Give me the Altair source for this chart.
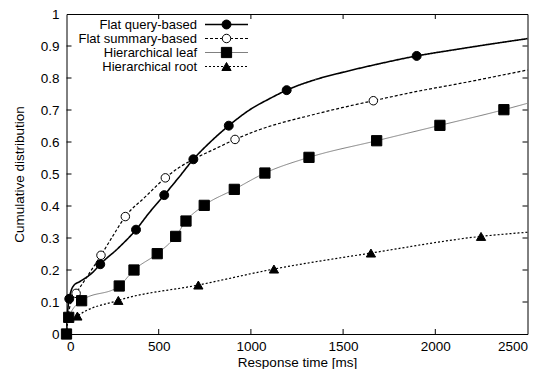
import altair as alt
import pandas as pd

# ---------------- data ----------------
X_TICKS = [0, 500, 1000, 1500, 2000, 2500]
Y_TICKS = [0, 0.1, 0.2, 0.3, 0.4, 0.5, 0.6, 0.7, 0.8, 0.9, 1]

SERIES = ["Flat query-based", "Flat summary-based", "Hierarchical leaf", "Hierarchical root"]

# curves
query_x = [0, 4, 15, 25, 40, 73, 145, 183, 280, 377, 450, 530, 610, 688, 780, 880, 1000, 1100, 1194, 1350, 1500, 1700, 1899, 2100, 2300, 2500]
query_y = [0, 0.05, 0.11, 0.135, 0.152, 0.164, 0.194, 0.218, 0.268, 0.326, 0.38, 0.434, 0.49, 0.546, 0.60, 0.651, 0.703, 0.735, 0.762, 0.795, 0.818, 0.845, 0.869, 0.888, 0.906, 0.923]

summary_x = [0, 8, 25, 52, 100, 187, 250, 319, 430, 536, 610, 688, 800, 914, 1049, 1321, 1500, 1664, 1900, 2134, 2500]
summary_y = [0, 0.05, 0.1, 0.127, 0.169, 0.246, 0.305, 0.367, 0.43, 0.488, 0.52, 0.546, 0.577, 0.608, 0.639, 0.683, 0.708, 0.729, 0.758, 0.783, 0.825]

leaf_x = [0, 12, 82, 286, 366, 492, 592, 648, 747, 910, 1076, 1315, 1682, 2025, 2372, 2500]
leaf_y = [0, 0.052, 0.104, 0.15, 0.2, 0.251, 0.305, 0.353, 0.402, 0.452, 0.503, 0.552, 0.604, 0.652, 0.701, 0.721]

root_x = [0, 5, 59, 281, 715, 1125, 1651, 2248, 2500]
root_y = [0, 0.03, 0.056, 0.105, 0.153, 0.203, 0.253, 0.305, 0.318]

# point markers
query_mx = [15, 183, 377, 530, 688, 880, 1194, 1899]
query_my = [0.11, 0.218, 0.326, 0.434, 0.546, 0.651, 0.762, 0.869]

summary_mx = [52, 187, 319, 536, 914, 1664]
summary_my = [0.127, 0.246, 0.367, 0.488, 0.608, 0.729]

leaf_mx = [0, 12, 82, 286, 366, 492, 592, 648, 747, 910, 1076, 1315, 1682, 2025, 2372]
leaf_my = [0, 0.052, 0.104, 0.15, 0.2, 0.251, 0.305, 0.353, 0.402, 0.452, 0.503, 0.552, 0.604, 0.652, 0.701]

root_mx = [59, 281, 715, 1125, 1651, 2248]
root_my = [0.056, 0.105, 0.153, 0.203, 0.253, 0.305]

# ---------------- layout / style ----------------
W, H = 461, 320
FONT = "Liberation Sans"
FS = 13.5
LEG_FS = 13
TICK = 5

xs = alt.Scale(domain=[0, 2500], nice=False, zero=False)
ys = alt.Scale(domain=[0, 1], nice=False, zero=False)

x_axis = alt.Axis(values=X_TICKS, title="Response time [ms]", ticks=False, domain=False,
                  grid=False, labelPadding=5, titlePadding=2.5, format="d")
y_axis = alt.Axis(values=Y_TICKS, title="Cumulative distribution", ticks=False, domain=False,
                  grid=False, labelPadding=7.5, titlePadding=14, format="~g")


def X(field="x"):
    return alt.X(f"{field}:Q", scale=xs, axis=x_axis)


def Y(field="y"):
    return alt.Y(f"{field}:Q", scale=ys, axis=y_axis)


styles = {
    "Flat query-based": dict(color="black", width=1.6, dash=[1, 0], shape="circle", filled=True, size=80),
    "Flat summary-based": dict(color="black", width=1.2, dash=[3, 2], shape="circle", filled=False, size=72),
    "Hierarchical leaf": dict(color="#808080", width=1.0, dash=[1, 0], shape="square", filled=True, size=105),
    "Hierarchical root": dict(color="black", width=1.2, dash=[2, 2], shape="triangle-up", filled=True, size=85),
}

curves = {
    "Flat query-based": (query_x, query_y, query_mx, query_my),
    "Flat summary-based": (summary_x, summary_y, summary_mx, summary_my),
    "Hierarchical leaf": (leaf_x, leaf_y, leaf_mx, leaf_my),
    "Hierarchical root": (root_x, root_y, root_mx, root_my),
}

layers = []
for name in SERIES:
    cx, cy, mx, my = curves[name]
    st = styles[name]
    line = alt.Chart(pd.DataFrame({"x": cx, "y": cy})).mark_line(
        color=st["color"], strokeWidth=st["width"], strokeDash=st["dash"], interpolate="monotone"
    ).encode(x=X(), y=Y())
    pts = alt.Chart(pd.DataFrame({"x": mx, "y": my})).mark_point(
        shape=st["shape"], filled=st["filled"], size=st["size"],
        color="black", fill="black" if st["filled"] else "white",
        stroke="black", strokeWidth=1, opacity=1,
    ).encode(x=X(), y=Y())
    layers += [line, pts]

# inward ticks on all four sides
xt = pd.DataFrame({"x": X_TICKS[1:-1]})
yt = pd.DataFrame({"y": Y_TICKS[1:-1]})
layers += [
    alt.Chart(xt).mark_rule(color="black", strokeWidth=1).encode(x=X(), y=alt.value(H), y2=alt.value(H - TICK)),
    alt.Chart(xt).mark_rule(color="black", strokeWidth=1).encode(x=X(), y=alt.value(0), y2=alt.value(TICK)),
    alt.Chart(yt).mark_rule(color="black", strokeWidth=1).encode(y=Y(), x=alt.value(0), x2=alt.value(TICK)),
    alt.Chart(yt).mark_rule(color="black", strokeWidth=1).encode(y=Y(), x=alt.value(W), x2=alt.value(W - TICK)),
]

# legend (gnuplot style: label left, sample right)
LEG_ROWS = [10.5, 24.5, 38.5, 52.5]
LEG_TEXT_X, LEG_L0, LEG_L1, LEG_M = 130.5, 138.5, 181.5, 160
for name, ry in zip(SERIES, LEG_ROWS):
    st = styles[name]
    layers += [
        alt.Chart(pd.DataFrame({"label": [name]})).mark_text(
            align="right", baseline="middle", font=FONT, fontSize=LEG_FS, color="black"
        ).encode(text="label:N", x=alt.value(LEG_TEXT_X), y=alt.value(ry)),
        alt.Chart(pd.DataFrame({"label": [name]})).mark_rule(
            color=st["color"], strokeWidth=st["width"], strokeDash=st["dash"]
        ).encode(x=alt.value(LEG_L0), x2=alt.value(LEG_L1), y=alt.value(ry)),
        alt.Chart(pd.DataFrame({"label": [name]})).mark_point(
            shape=st["shape"], filled=st["filled"], size=st["size"],
            color="black", fill="black" if st["filled"] else "white",
            stroke="black", strokeWidth=1, opacity=1,
        ).encode(x=alt.value(LEG_M), y=alt.value(ry)),
    ]

chart = alt.layer(*layers).properties(
    width=W, height=H,
    autosize=alt.AutoSizeParams(type="none"),
    padding={"left": 58.5, "top": 6, "right": 8, "bottom": 35},
    background="white",
).configure_view(
    stroke="black", strokeWidth=1
).configure_axis(
    labelFont=FONT, labelFontSize=FS, labelColor="black",
    titleFont=FONT, titleFontSize=FS, titleColor="black", titleFontWeight="normal",
)

chart.save("out.html", embed_options={"renderer": "svg", "actions": False})
